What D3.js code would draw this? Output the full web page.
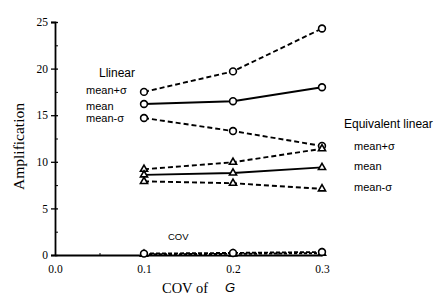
<!DOCTYPE html>
<html><head><meta charset="utf-8">
<script src="https://cdn.jsdelivr.net/npm/d3@7"></script>
<style>body{margin:0;background:#fff}svg{display:block}</style>
</head><body>
<svg id="c" width="446" height="303"></svg>
<script>
const covG = [0.1, 0.2, 0.3];
const linPlus = [17.5, 19.7, 24.3];
const linMean = [16.2, 16.5, 18.0];
const linMinus = [14.7, 13.3, 11.7];
const eqPlus = [9.2, 9.95, 11.4];
const eqMean = [8.6, 8.8, 9.4];
const eqMinus = [7.9, 7.7, 7.1];
const covLin = [0.15, 0.22, 0.32];
const covEq = [0.08, 0.12, 0.2];
const yTicks = [0, 5, 10, 15, 20, 25];
const xTicks = [0.0, 0.1, 0.2, 0.3];

const svg = d3.select("#c");
const x = d3.scaleLinear().domain([0, 0.3]).range([55, 322]);
const y = d3.scaleLinear().domain([0, 25]).range([255, 22]);

// axes
const gy = svg.append("g").attr("transform", "translate(55,0)")
  .call(d3.axisLeft(y).tickValues(yTicks).tickSize(4).tickPadding(3).tickFormat(d3.format("d")));
gy.select(".domain").attr("stroke-width", 1.8);
gy.selectAll("line").attr("x2", -4).attr("x1", 3).attr("stroke-width", 1.3);
gy.selectAll("text").attr("font-family", "Liberation Serif").attr("font-size", 11.5).attr("fill", "#000");
svg.append("g").attr("transform", "translate(55,0)")
  .call(d3.axisRight(y).tickValues(d3.range(2.5, 25, 5)).tickSize(3).tickFormat(""))
  .select(".domain").remove();

const gx = svg.append("g").attr("transform", "translate(0,255)")
  .call(d3.axisBottom(x).tickValues(xTicks).tickSize(0).tickPadding(10).tickFormat(d3.format(".1f")));
gx.select(".domain").attr("stroke-width", 1.8);
gx.selectAll("text").attr("font-family", "Liberation Serif").attr("font-size", 11.5).attr("fill", "#000");
svg.append("g").attr("transform", "translate(0,255)")
  .call(d3.axisTop(x).tickValues([0.05, 0.15, 0.25]).tickSize(2).tickFormat(""))
  .select(".domain").remove();

// axis titles
svg.append("text").attr("transform", "translate(24,190) rotate(-90)")
  .attr("font-family", "Liberation Serif").attr("font-size", 14)
  .attr("textLength", 87).attr("lengthAdjust", "spacingAndGlyphs")
  .text("Amplification");
svg.append("text").attr("x", 162).attr("y", 293)
  .attr("font-family", "Liberation Serif").attr("font-size", 14)
  .attr("textLength", 46).attr("lengthAdjust", "spacingAndGlyphs").text("COV of");
svg.append("text").attr("x", 225).attr("y", 292)
  .attr("font-family", "Liberation Sans").attr("font-style", "italic").attr("font-size", 13).text("G");

// series
const series = [
  {v: linPlus, dash: "5,3", m: "circle"},
  {v: linMean, dash: null, m: "circle"},
  {v: linMinus, dash: "5,3", m: "circle"},
  {v: eqPlus, dash: "5,3", m: "tri"},
  {v: eqMean, dash: null, m: "tri"},
  {v: eqMinus, dash: "5,3", m: "tri"},
  {v: covEq, dash: "3,2", m: "tri"},
  {v: covLin, dash: "4,2", m: "circle"}
];
const line = d3.line().x((d, i) => x(covG[i])).y(d => y(d));
series.forEach(s => {
  svg.append("path").attr("d", line(s.v)).attr("fill", "none").attr("stroke", "#000")
    .attr("stroke-width", 1.9).attr("stroke-dasharray", s.dash);
  s.v.forEach((d, i) => {
    if (s.m === "circle") {
      svg.append("circle").attr("cx", x(covG[i])).attr("cy", y(d)).attr("r", 3.4)
        .attr("fill", "#fff").attr("stroke", "#000").attr("stroke-width", 1.6);
    } else {
      svg.append("path").attr("d", d3.symbol(d3.symbolTriangle, 22)())
        .attr("transform", `translate(${x(covG[i])},${y(d)})`)
        .attr("fill", "#fff").attr("stroke", "#000").attr("stroke-width", 1.6);
    }
  });
});

// labels
const lab = (t, xx, yy, size) => svg.append("text").attr("x", xx).attr("y", yy)
  .attr("font-family", "Liberation Sans").attr("font-size", size || 11).text(t);
lab("Llinear", 99, 77, 12);
lab("mean+σ", 86, 94);
lab("mean", 86, 110);
lab("mean-σ", 86, 122);
lab("Equivalent linear", 344, 128, 12);
lab("mean+σ", 354, 150);
lab("mean", 354, 170);
lab("mean-σ", 354, 191);
lab("COV", 168, 240, 9.5);
</script>
</body></html>
